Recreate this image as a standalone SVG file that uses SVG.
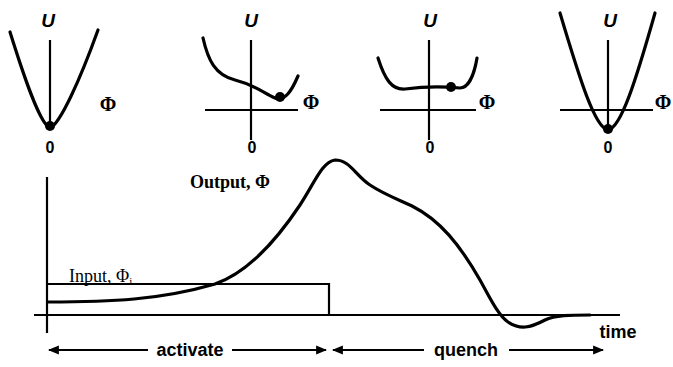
<svg xmlns="http://www.w3.org/2000/svg" width="673" height="367" viewBox="0 0 673 367">
<defs>
<marker id="ah" viewBox="0 0 10 10" refX="9" refY="5" markerWidth="11" markerHeight="11" markerUnits="userSpaceOnUse" orient="auto-start-reverse"><path d="M0,1 L10,5 L0,9 Z" fill="#000"/></marker>
</defs>
<style>
.ax{stroke:#000;stroke-width:2.2;fill:none}
.cv{stroke:#000;stroke-width:3.2;fill:none;stroke-linecap:round}
.U{font-family:"Liberation Sans",sans-serif;font-weight:bold;font-style:italic;font-size:19px;text-anchor:middle}
.z{font-family:"Liberation Sans",sans-serif;font-weight:bold;font-size:16px;text-anchor:middle}
.ph{font-family:"Liberation Serif",serif;font-weight:bold;font-size:20px;text-anchor:middle}
.lab{font-family:"Liberation Serif",serif;font-size:18px}
.big{font-family:"Liberation Sans",sans-serif;font-weight:bold;font-size:18px;text-anchor:middle}
</style>
<rect width="673" height="367" fill="#fff"/>
<g id="panel1">
<text class="U" x="48" y="27">U</text>
<line class="ax" x1="50" y1="40" x2="50" y2="126"/>
<path class="cv" d="M10,32 C25,80 40,124 50,128 C60,124 80,80 98,30"/>
<circle cx="50" cy="126" r="5"/>
<text class="ph" x="108" y="111">Φ</text>
<text class="z" x="50" y="153">0</text>
</g>
<g id="panel2">
<text class="U" x="251" y="27">U</text>
<line class="ax" x1="251" y1="40" x2="251" y2="140"/>
<line class="ax" x1="205" y1="110" x2="298" y2="110"/>
<path class="cv" d="M203,38 C208,60 215,75 235,80 C255,85 262,92 275,98 C285,102 292,90 298,76"/>
<circle cx="280" cy="97" r="5"/>
<text class="ph" x="311" y="109">Φ</text>
<text class="z" x="252" y="153">0</text>
</g>
<g id="panel3">
<text class="U" x="430" y="27">U</text>
<line class="ax" x1="429" y1="40" x2="429" y2="140"/>
<line class="ax" x1="380" y1="110" x2="476" y2="110"/>
<path class="cv" d="M378,58 C385,80 392,90 405,89 C420,87 440,86 460,88 C470,88 475,70 477,58"/>
<circle cx="451" cy="87" r="5"/>
<text class="ph" x="487" y="109">Φ</text>
<text class="z" x="430" y="153">0</text>
</g>
<g id="panel4">
<text class="U" x="610" y="27">U</text>
<line class="ax" x1="608" y1="40" x2="608" y2="132"/>
<line class="ax" x1="560" y1="110" x2="653" y2="110"/>
<path class="cv" d="M560,13 C580,80 595,128 608,130 C621,128 636,80 655,13"/>
<circle cx="608" cy="129" r="5"/>
<text class="ph" x="663" y="109">Φ</text>
<text class="z" x="608" y="153">0</text>
</g>
<g id="plot">
<line class="ax" x1="47" y1="177" x2="47" y2="333"/>
<line class="ax" x1="34" y1="315" x2="620" y2="315"/>
<path class="ax" d="M47,284 L329,284 L329,315"/>
<path class="cv" d="M48,302 C110,302 160,300 215,284 C250,272 280,235 300,205 C315,182 322,162 335,160 C350,160 355,175 370,185 C385,195 400,200 412,206 C440,220 460,245 480,280 C490,298 498,315 508,322 C520,330 530,328 545,320 C555,315 570,315 590,315"/>
<text class="lab" x="69" y="282">Input, Φ<tspan font-size="11" dy="3">i</tspan></text>
<text class="lab" x="190" y="188" font-weight="bold">Output, Φ</text>
<text class="big" x="618" y="338" font-size="16">time</text>
</g>
<g id="connectors">
<line class="ax" x1="49" y1="350" x2="148" y2="350" marker-start="url(#ah)"/>
<line class="ax" x1="232" y1="350" x2="326" y2="350" marker-end="url(#ah)"/>
<line class="ax" x1="333" y1="350" x2="424" y2="350" marker-start="url(#ah)"/>
<line class="ax" x1="509" y1="350" x2="603" y2="350" marker-end="url(#ah)"/>
</g>
<text class="big" x="190" y="356">activate</text>
<text class="big" x="466" y="356">quench</text>
</svg>
